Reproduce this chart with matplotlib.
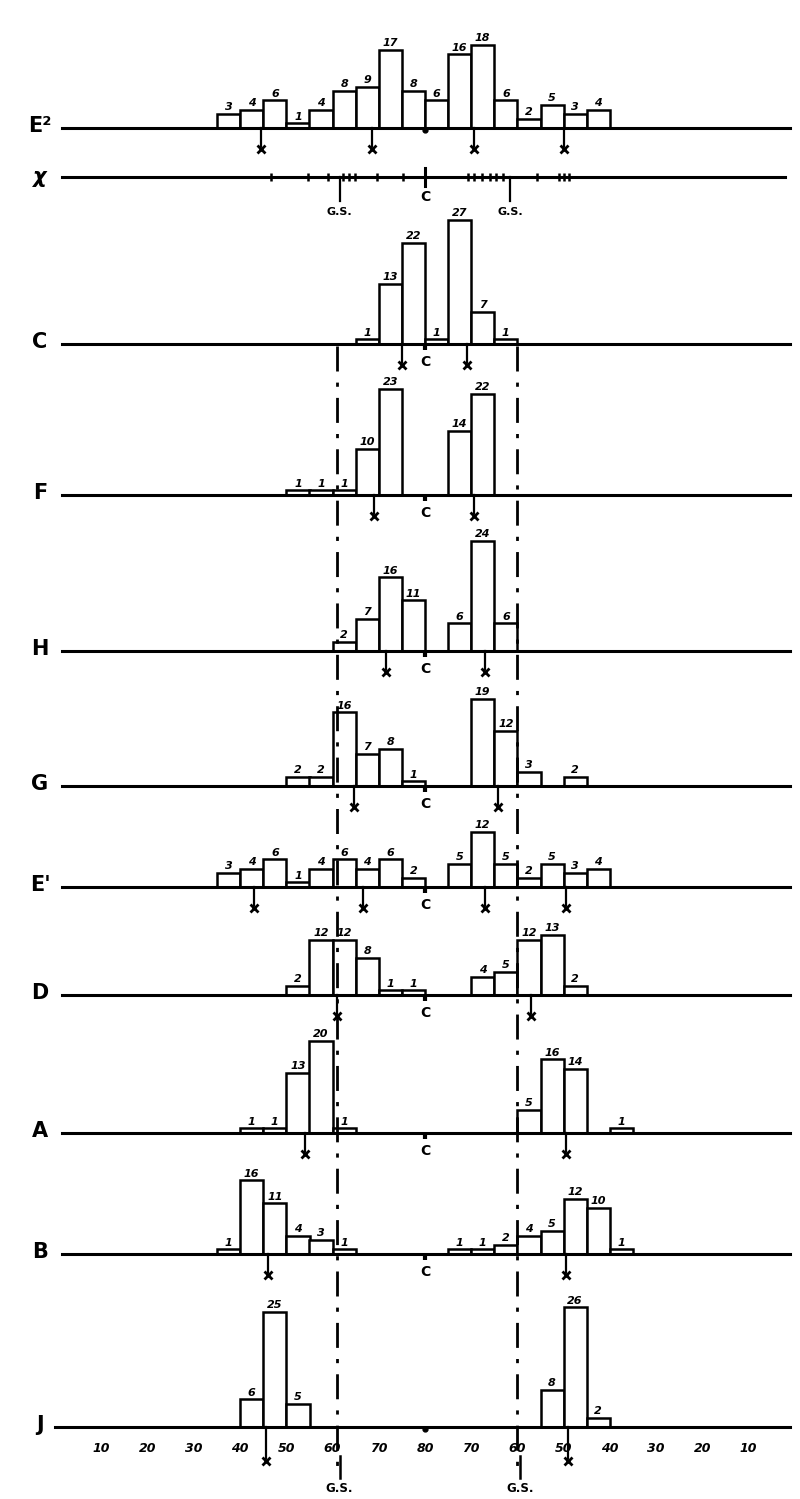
import matplotlib
matplotlib.use("Agg")
import matplotlib.pyplot as plt

W, H = 800, 1499
PX_U = 4.62      # pixels per scale unit (horizontal)
PX_N = 4.6       # pixels per count (vertical)
U_LO = 80 - 425 / PX_U
U_HI = U_LO + W / PX_U

# scale: 10..80 on the left, then mirrored 70..10 (u = 90..150)
tick_u = [10, 20, 30, 40, 50, 60, 70, 80, 90, 100, 110, 120, 130, 140, 150]
tick_lab = ["10", "20", "30", "40", "50", "60", "70", "80",
            "70", "60", "50", "40", "30", "20", "10"]

# each bin is 5 units wide, starting at the given u
e2_start = [35, 40, 45, 50, 55, 60, 65, 70, 75, 80, 85, 90, 95, 100, 105, 110, 115]
e2_count = [3, 4, 6, 1, 4, 8, 9, 17, 8, 6, 16, 18, 6, 2, 5, 3, 4]
e2_cross = [44.5, 68.5, 90.5, 110]

chi_marks = [46.7, 54.7, 59, 62.3, 63.5, 64.8, 69.6, 75.2, 89.3, 90.6, 92.3,
             94.1, 95.4, 96.9, 104.2, 109, 110.1, 111.2]
chi_gs = [61.5, 98.5]

c_start = [65, 70, 75, 80, 85, 90, 95]
c_count = [1, 13, 22, 1, 27, 7, 1]
c_cross = [75, 89]

f_start = [50, 55, 60, 65, 70, 85, 90]
f_count = [1, 1, 1, 10, 23, 14, 22]
f_cross = [69, 90.5]

h_start = [60, 65, 70, 75, 85, 90, 95]
h_count = [2, 7, 16, 11, 6, 24, 6]
h_cross = [71.5, 93]

g_start = [50, 55, 60, 65, 70, 75, 90, 95, 100, 110]
g_count = [2, 2, 16, 7, 8, 1, 19, 12, 3, 2]
g_cross = [64.7, 95.8]

e1_start = [35, 40, 45, 50, 55, 60, 65, 70, 75, 85, 90, 95, 100, 105, 110, 115]
e1_count = [3, 4, 6, 1, 4, 6, 4, 6, 2, 5, 12, 5, 2, 5, 3, 4]
e1_cross = [43, 66.5, 93, 110.5]

d_start = [50, 55, 60, 65, 70, 75, 90, 95, 100, 105, 110]
d_count = [2, 12, 12, 8, 1, 1, 4, 5, 12, 13, 2]
d_cross = [61, 103]

a_start = [40, 45, 50, 55, 60, 100, 105, 110, 120]
a_count = [1, 1, 13, 20, 1, 5, 16, 14, 1]
a_cross = [54, 110.5]

b_start = [35, 40, 45, 50, 55, 60, 85, 90, 95, 100, 105, 110, 115, 120]
b_count = [1, 16, 11, 4, 3, 1, 1, 1, 2, 4, 5, 12, 10, 1]
b_cross = [46, 110.5]

j_start = [40, 45, 50, 105, 110, 115]
j_count = [6, 25, 5, 8, 26, 2]
j_cross = [45.5, 111]

gs_u = [61, 100]

FONT = dict(family="DejaVu Sans", weight="bold", style="italic")

fig = plt.figure(figsize=(W / 100, H / 100), dpi=100)


def row_axes(yb, lo=-10, hi=30):
    ax = fig.add_axes([0, 1 - (yb - lo * PX_N) / H, 1, (hi - lo) * PX_N / H])
    ax.set_xlim(U_LO, U_HI)
    ax.set_ylim(lo, hi)
    ax.patch.set_alpha(0)
    for s in ["top", "left", "right"]:
        ax.spines[s].set_visible(False)
    ax.spines["bottom"].set_position(("data", 0))
    ax.spines["bottom"].set_linewidth(2.2)
    ax.spines["bottom"].set_bounds(1.5, 159)
    ax.set_yticks([])
    ax.set_xticks([])
    return ax


def hist_row(yb, name, start, count, cross, centre="C", drop=4):
    ax = row_axes(yb)
    ax.bar(start, count, width=5, align="edge", color="white",
           edgecolor="black", linewidth=1.8, zorder=2)
    for s, n in zip(start, count):
        ax.text(s + 2.5, n + 0.4, str(n), ha="center", va="bottom",
                fontsize=8, **FONT)
    for u in cross:
        ax.plot([u, u], [0, -drop], color="black", lw=1.6)
        ax.plot(u, -drop - 0.6, marker="x", color="black", ms=6, mew=2)
    if centre == "C":
        ax.plot([80, 80], [0, -1.2], color="black", lw=3, solid_capstyle="butt")
        ax.text(80, -3.9, "C", ha="center", va="center", fontsize=10,
                family="DejaVu Sans", weight="bold")
    else:
        ax.plot(80, -0.5, "o", color="black", ms=3.5)
    fig.text(40 / W, 1 - (yb - 2) / H, name, ha="center", va="center",
             fontsize=15, family="DejaVu Sans", weight="bold")
    return ax


hist_row(128, "E²", e2_start, e2_count, e2_cross, centre="dot")

# chi row
ax = row_axes(177)
ax.spines["bottom"].set_bounds(1.5, 158)
ax.vlines(chi_marks, -0.9, 0.9, color="black", lw=1.8)
ax.plot([80, 80], [-2, 2], color="black", lw=2.2)
ax.text(80, -4.4, "C", ha="center", va="center", fontsize=10,
        family="DejaVu Sans", weight="bold")
for u in chi_gs:
    ax.plot([u, u], [0, -5.3], color="black", lw=1.6)
    ax.text(u, -7.6, "G.S.", ha="center", va="center", fontsize=8,
            family="DejaVu Sans", weight="bold")
fig.text(40 / W, 1 - 177 / H, "χ", ha="center", va="center",
         fontsize=15, family="DejaVu Sans", weight="bold", style="italic")

hist_row(344, "C", c_start, c_count, c_cross)
hist_row(495, "F", f_start, f_count, f_cross)
hist_row(651, "H", h_start, h_count, h_cross)
hist_row(786, "G", g_start, g_count, g_cross)
hist_row(887, "E'", e1_start, e1_count, e1_cross)
hist_row(995, "D", d_start, d_count, d_cross)
hist_row(1133, "A", a_start, a_count, a_cross)
hist_row(1254, "B", b_start, b_count, b_cross)
axj = hist_row(1427, "J", j_start, j_count, j_cross, centre="dot", drop=6.8)
axj.spines["bottom"].set_bounds(0, 159)
for u, lab in zip(tick_u, tick_lab):
    axj.text(u, -4.6, lab, ha="center", va="center", fontsize=9, **FONT)

# overlay: G.S. dash-dot lines down through the rows
top = fig.add_axes([0, 0, 1, 1])
top.set_xlim(U_LO, U_HI)
top.set_ylim(H, 0)
top.axis("off")
top.patch.set_alpha(0)
top.vlines(gs_u, 346, 1470, color="black", lw=2,
           linestyles=[(0, (9, 4, 1.5, 4))])
for u in gs_u:
    top.plot([u + 0.5, u + 0.5], [1456, 1478], color="black", lw=1.8)
    top.text(u + 0.5, 1489, "G.S.", ha="center", va="center", fontsize=8.5,
             family="DejaVu Sans", weight="bold")

fig.savefig("out.png", dpi=100, facecolor="white")
